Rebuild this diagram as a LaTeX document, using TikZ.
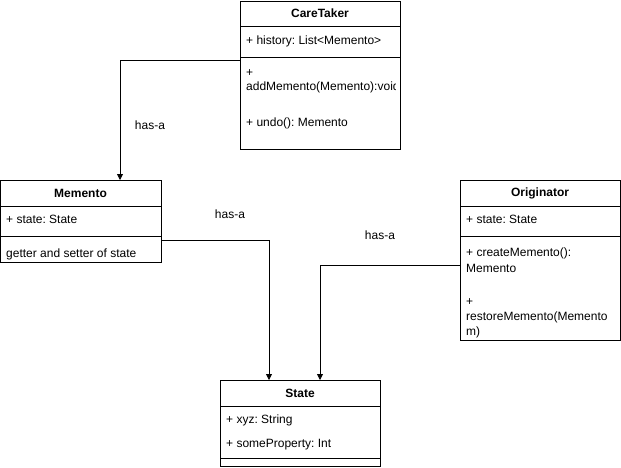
\documentclass[tikz,border=0pt]{standalone}
\usepackage{fontspec}
\setmainfont{Liberation Sans}[WordSpace={1,0,0}]
\usetikzlibrary{arrows.meta}
\frenchspacing
\begin{document}
\frenchspacing
\begin{tikzpicture}[x=1pt,y=-1pt,
  box/.style={draw,line width=0.8pt,anchor=north west,inner sep=0pt},
  ttl/.style={font=\fontsize{12}{14}\selectfont\bfseries,inner sep=0pt},
  txt/.style={font=\fontsize{12}{14}\selectfont,anchor=west,inner sep=0pt},
  lbl/.style={font=\fontsize{12}{14}\selectfont,inner sep=0pt},
  conn/.style={line width=0.8pt,-{Triangle[length=6pt,width=6pt]}},
  sep/.style={line width=0.8pt}]
\useasboundingbox (0,0) rectangle (621,467);
% CareTaker
\node[box,minimum width=160pt,minimum height=148pt] (ct) at (240,1) {};
\draw[sep] (240,26) -- (400,26);
\draw[sep] (240,57) -- (400,57);
\node[ttl] (ctt) at (320,13.5) {CareTaker};
\node[txt] (ct1) at (246,41) {+ history: List<Memento>};
\node[txt] (ct2) at (246,73) {+};
\begin{scope}
\clip (240,60) rectangle (395,100);
\node[txt] (ct3) at (246,87) {addMemento(Memento):void};
\end{scope}
\node[txt] (ct4) at (246,123) {+ undo(): Memento};
% Memento
\node[box,minimum width=161pt,minimum height=82pt] (me) at (0,180) {};
\draw[sep] (0,206) -- (161,206);
\draw[sep] (0,236) -- (161,236);
\node[ttl] (met) at (80.5,193) {Memento};
\node[txt] (me1) at (6,219) {+ state: State};
\node[txt] (me2) at (6,254) {getter and setter of state};
% Originator
\node[box,minimum width=160pt,minimum height=160pt] (or) at (460,180) {};
\draw[sep] (460,206) -- (620,206);
\draw[sep] (460,236) -- (620,236);
\node[ttl] (ort) at (540,193) {Originator};
\node[txt] (or1) at (466,219) {+ state: State};
\node[txt] (or2) at (466,253) {+ createMemento():};
\node[txt] (or3) at (466,268) {Memento};
\node[txt] (or4) at (466,302) {+};
\node[txt] (or5) at (466,317) {restoreMemento(Memento};
\node[txt] (or6) at (466,332) {m)};
% State
\node[box,minimum width=160pt,minimum height=86pt] (st) at (220,380) {};
\draw[sep] (220,406) -- (380,406);
\draw[sep] (220,458) -- (380,458);
\node[ttl] (stt) at (300,393) {State};
\node[txt] (st1) at (226,420) {+ xyz: String};
\node[txt] (st2) at (226,445) {+ someProperty: Int};
% connectors
\coordinate (c1) at (240,60);
\coordinate (c2) at (161,240);
\coordinate (c3) at (460,265);
\draw[conn] (c1) -- (120,60) -- (me.north -| 120,0);
\draw[conn] (c2) -- (269,240) -- (st.north -| 269,0);
\draw[conn] (c3) -- (320,265) -- (st.north -| 320,0);
\node[lbl] (l1) at (150,125) {has-a};
\node[lbl] (l2) at (230,214) {has-a};
\node[lbl] (l3) at (380,235) {has-a};
\end{tikzpicture}
\end{document}
